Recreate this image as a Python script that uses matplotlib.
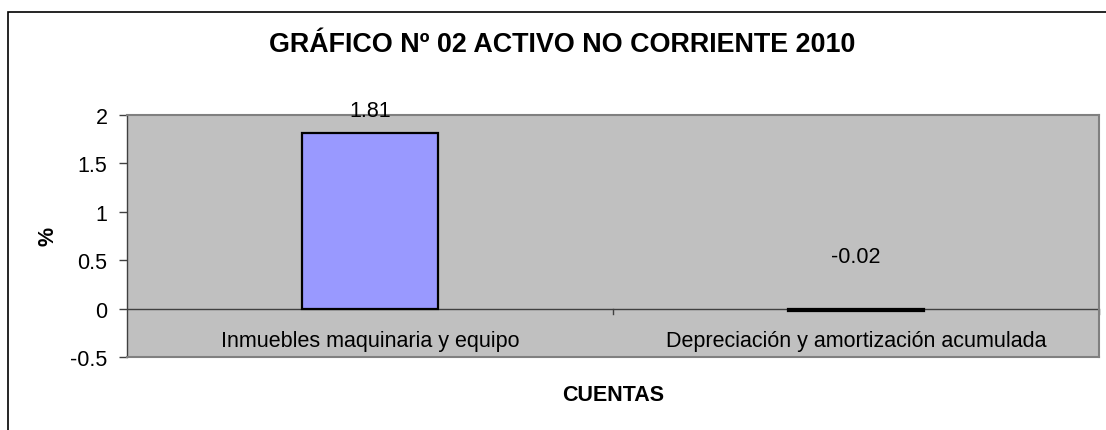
import matplotlib
matplotlib.use("Agg")
import matplotlib.pyplot as plt
from matplotlib.patches import Rectangle

plt.rcParams['font.family'] = ['Liberation Sans', 'DejaVu Sans']

categories = ["Inmuebles maquinaria y equipo", "Depreciación y amortización acumulada"]
values = [1.81, -0.02]
value_labels = ["1.81", "-0.02"]
label_y = [2.05, 0.54]
yticks = [-0.5, 0, 0.5, 1, 1.5, 2]
ytick_labels = ["-0.5", "0", "0.5", "1", "1.5", "2"]

title = "GRÁFICO Nº 02 ACTIVO NO CORRIENTE 2010"
xlabel = "CUENTAS"
ylabel = "%"

W, H = 1106, 431
fig = plt.figure(figsize=(W / 100, H / 100), dpi=100)
fig.patch.set_facecolor("white")

# outer chart frame
fig.patches.append(Rectangle((8 / W, -0.2), 1.2, 1.2 - 13 / H,
                             transform=fig.transFigure, fill=False,
                             edgecolor="black", linewidth=1.2, zorder=0))

ax = fig.add_axes([127 / W, 1 - 358 / H, (1099 - 127) / W, (358 - 116) / H])
ax.set_facecolor("#C0C0C0")

x = list(range(len(categories)))
ax.bar(x, values, width=0.278, color="#9999FF", edgecolor="black", linewidth=1.6, zorder=3)

FS = 15.5
for xi, lab, ly in zip(x, value_labels, label_y):
    ax.text(xi, ly, lab, ha="center", va="center", fontsize=FS, color="black", zorder=4)

ax.set_xlim(-0.5, len(categories) - 0.5)
ax.set_ylim(-0.5, 2)
ax.set_yticks(yticks)
ax.set_yticklabels(ytick_labels, fontsize=FS)

# spines
for s in ["top", "right", "bottom"]:
    ax.spines[s].set_color("#808080")
    ax.spines[s].set_linewidth(1.5)
ax.spines["left"].set_color("#404040")
ax.spines["left"].set_linewidth(1.0)

# zero line as category axis
ax.axhline(0, color="#404040", linewidth=1.0, zorder=2)
for b in [0.5, 1.5]:
    ax.plot([b, b], [0, -0.06], color="#404040", linewidth=1.0, zorder=2, clip_on=False)

ax.set_xticks([])
for xi, cat in zip(x, categories):
    ax.text(xi, -0.325, cat, ha="center", va="center", fontsize=FS, color="black")

ax.tick_params(axis="y", direction="out", length=6, width=1, color="#404040", pad=8)

fig.text(562 / W, 1 - 45 / H, title, ha="center", va="center", fontsize=19.4, fontweight="bold")
fig.text(613 / W, 1 - 396 / H, xlabel, ha="center", va="center", fontsize=FS, fontweight="bold")
fig.text(48 / W, 1 - 236 / H, ylabel, ha="center", va="center", fontsize=FS, fontweight="bold", rotation=90)

fig.savefig("out.png", dpi=100)
